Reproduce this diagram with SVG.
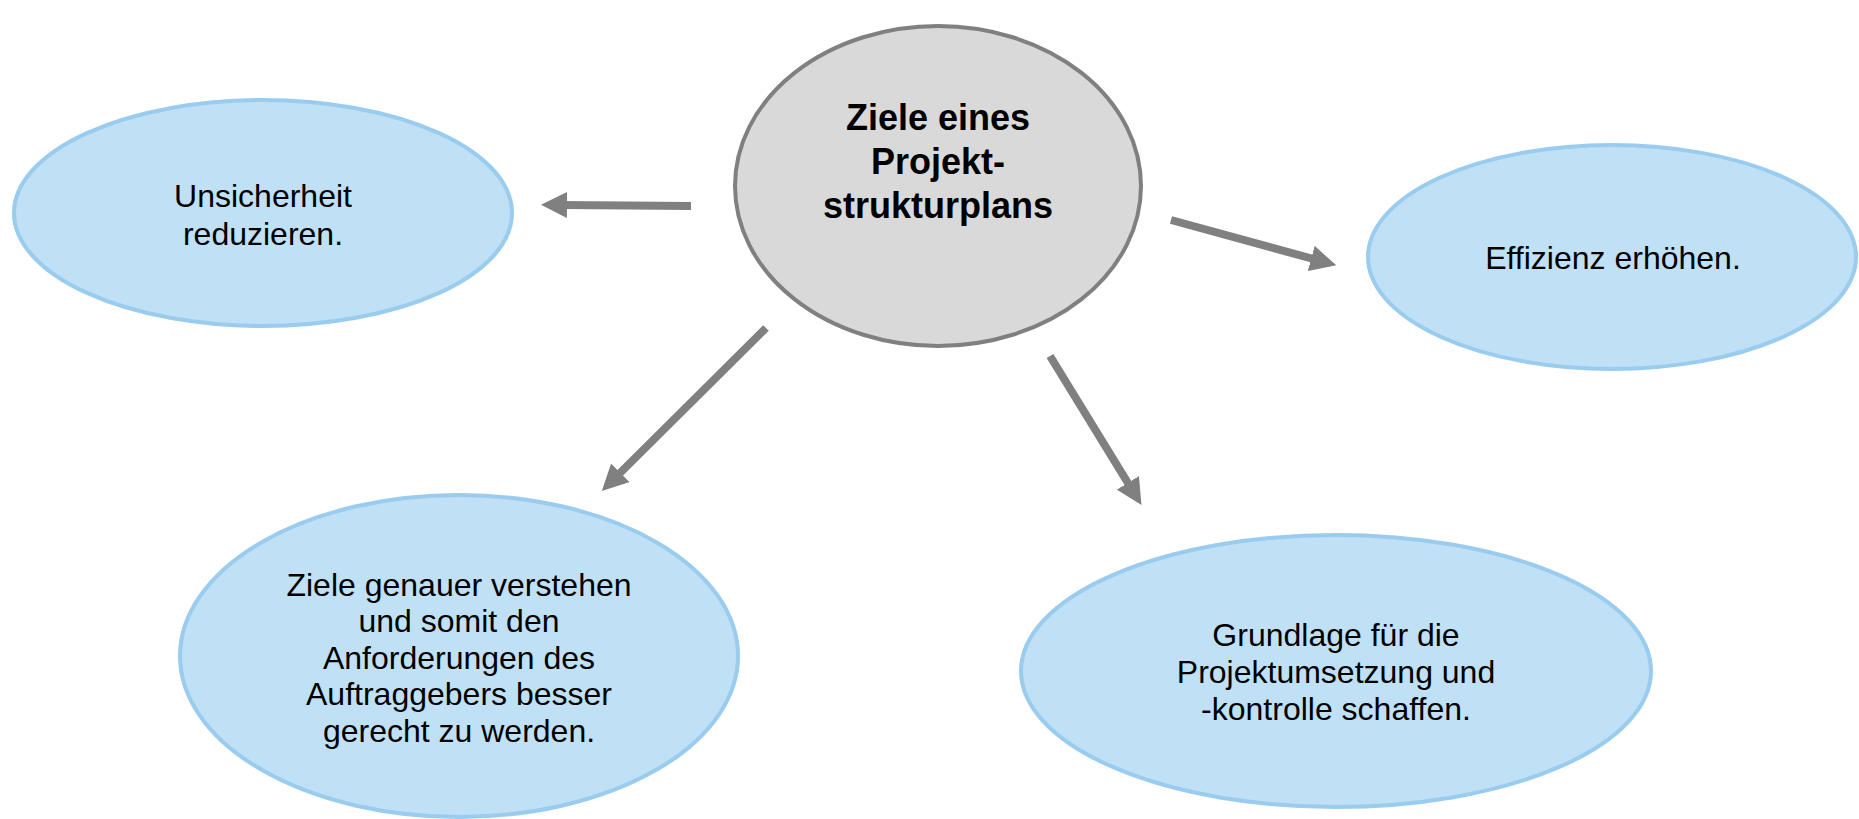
<svg xmlns="http://www.w3.org/2000/svg" width="1859" height="819" viewBox="0 0 1859 819">
  <style>
    .leaf { fill: #BFE0F5; stroke: #99CCEE; stroke-width: 4; }
    .hub { fill: #D9D9D9; stroke: #808080; stroke-width: 4; }
    .t { font-family: "Liberation Sans", Arial, sans-serif; font-size: 32px; fill: #000; text-anchor: middle; }
    .tb { font-family: "Liberation Sans", Arial, sans-serif; font-size: 36px; font-weight: bold; fill: #000; text-anchor: middle; }
    .conn { stroke: #808080; stroke-width: 8; fill: none; marker-end: url(#ah); }
  </style>
  <defs>
    <marker id="ah" viewBox="0 0 26 26" refX="6" refY="13" markerWidth="26" markerHeight="26" markerUnits="userSpaceOnUse" orient="auto">
      <path d="M0,0 L26,13 L0,26 z" fill="#808080"/>
    </marker>
  </defs>
  <rect width="1859" height="819" fill="#FFFFFF"/>

  <g id="hub">
    <ellipse class="hub" cx="938" cy="186" rx="203" ry="160"/>
    <text class="tb" x="938" y="130">Ziele eines</text>
    <text class="tb" x="938" y="174">Projekt-</text>
    <text class="tb" x="938" y="218">strukturplans</text>
  </g>

  <g id="node-unsicherheit">
    <ellipse class="leaf" cx="263" cy="213" rx="249" ry="113"/>
    <text class="t" x="263" y="207">Unsicherheit</text>
    <text class="t" x="263" y="245">reduzieren.</text>
  </g>

  <g id="node-effizienz">
    <ellipse class="leaf" cx="1612" cy="257" rx="244" ry="112"/>
    <text class="t" x="1613" y="269">Effizienz erhöhen.</text>
  </g>

  <g id="node-ziele">
    <ellipse class="leaf" cx="459" cy="656" rx="279" ry="161"/>
    <text class="t" x="459" y="596">Ziele genauer verstehen</text>
    <text class="t" x="459" y="632">und somit den</text>
    <text class="t" x="459" y="669">Anforderungen des</text>
    <text class="t" x="459" y="705">Auftraggebers besser</text>
    <text class="t" x="459" y="742">gerecht zu werden.</text>
  </g>

  <g id="node-grundlage">
    <ellipse class="leaf" cx="1336" cy="671" rx="315" ry="136"/>
    <text class="t" x="1336" y="646">Grundlage für die</text>
    <text class="t" x="1336" y="683">Projektumsetzung und</text>
    <text class="t" x="1336" y="720">-kontrolle schaffen.</text>
  </g>

  <g id="connectors">
    <line class="conn" x1="691" y1="206" x2="561" y2="205"/>
    <line class="conn" x1="1171" y1="220" x2="1317" y2="260"/>
    <line class="conn" x1="766" y1="328" x2="616" y2="477"/>
    <line class="conn" x1="1050" y1="356" x2="1131" y2="488"/>
  </g>
</svg>
